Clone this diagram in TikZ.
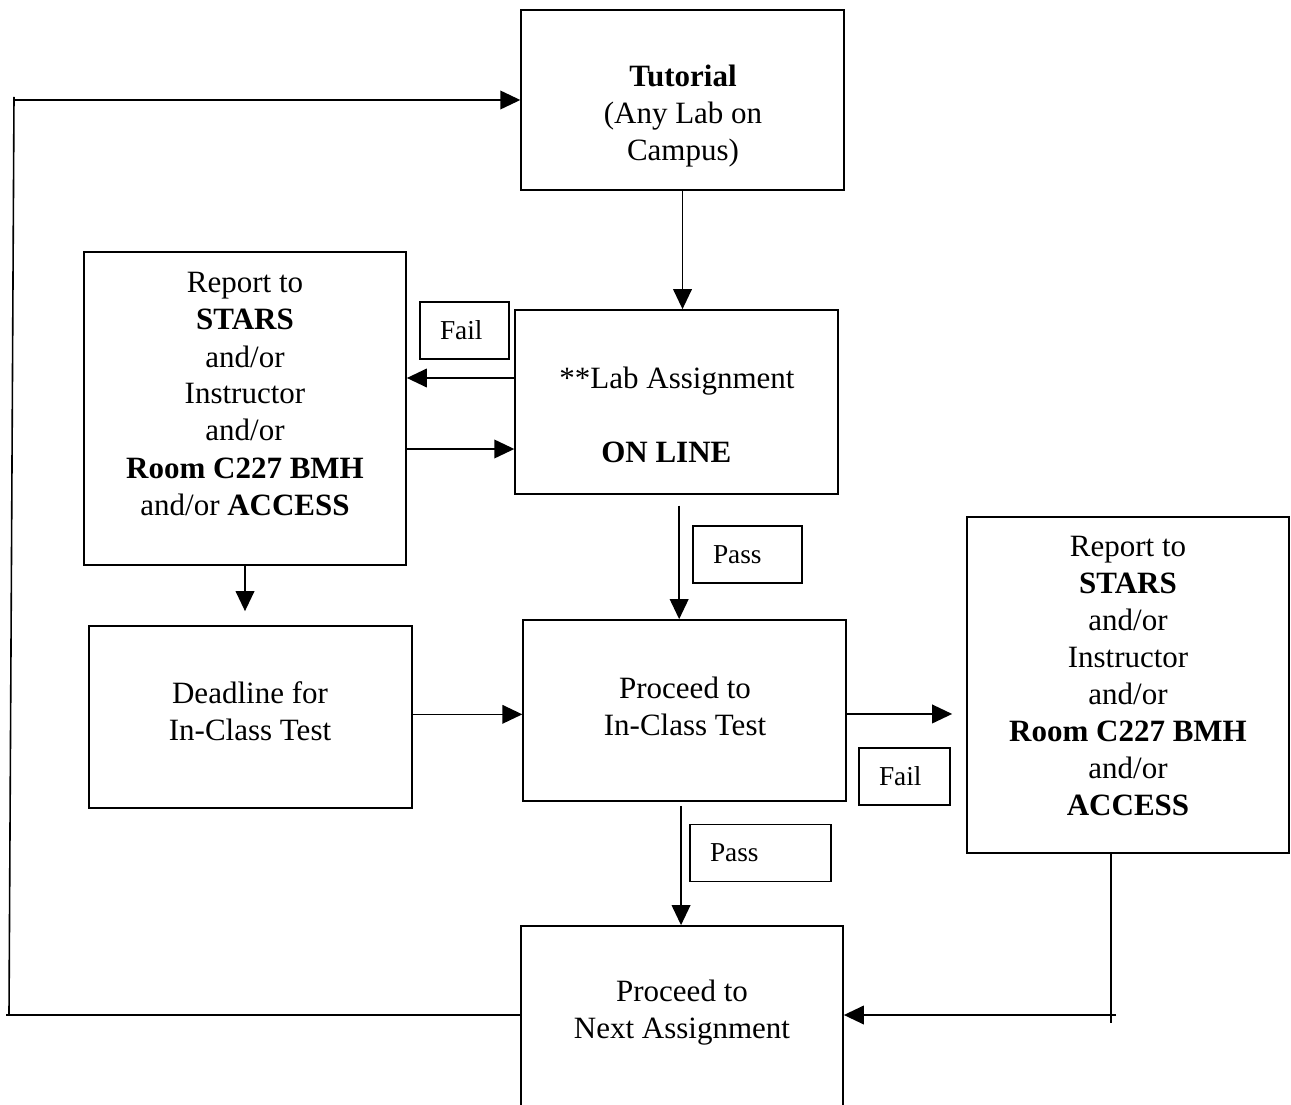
\documentclass[tikz,border=0pt]{standalone}
\usepackage{fontspec}
\setmainfont{Liberation Serif}
\usetikzlibrary{arrows.meta, positioning}

\begin{document}
\begin{tikzpicture}[
        x=0.75pt, y=-0.75pt,
        font=\fontsize{23.25pt}{27.75pt}\selectfont,
        caixa/.style={rectangle, draw, line width=1.3pt, minimum width=242pt},
        texto/.style={align=center, inner sep=0pt},
        rotulo/.style={rectangle, draw, line width=1.1pt, font=\fontsize{20.5pt}{24pt}\selectfont, inner xsep=15pt, inner ysep=0pt, align=left, minimum height=42.75pt},
        conector/.style={-{Triangle[length=15pt,width=14pt]}, line width=1.2pt},
        linha/.style={line width=1.2pt}
    ]
    \useasboundingbox (0,0) rectangle (1291,1105);

    % CAIXAS
    \node[caixa, minimum height=135pt] (tutorial) at (682.5,100) {};
    \node[texto] (tutorial_txt) at (683,116) {\textbf{Tutorial}\\(Any Lab on\\Campus)};
    \node[caixa, minimum height=138pt] (lab) at (676.5,402) {};
    \node[texto] (lab_txt) at (677,415) {**Lab Assignment\\[27.75pt]\textbf{ON LINE}\hspace*{16pt}};
    \node[caixa, minimum width=241.5pt, minimum height=234.75pt] (relatorio1) at (245,408.5) {};
    \node[texto] (relatorio1_txt) at (245,394) {Report to\\\textbf{STARS}\\and/or\\Instructor\\and/or\\\textbf{Room C227 BMH}\\and/or \textbf{ACCESS}};
    \node[caixa, minimum height=136.5pt] (prazo) at (250.5,717) {};
    \node[texto] (prazo_txt) at (250,711) {Deadline for\\In-Class Test};
    \node[caixa, minimum height=135.75pt] (teste) at (684.5,710.5) {};
    \node[texto] (teste_txt) at (685,706) {Proceed to\\In-Class Test};
    \node[caixa, minimum width=241.5pt, minimum height=252pt] (relatorio2) at (1128,685) {};
    \node[texto] (relatorio2_txt) at (1128,676) {Report to\\\textbf{STARS}\\and/or\\Instructor\\and/or\\\textbf{Room C227 BMH}\\and/or\\\textbf{ACCESS}};
    \node[caixa, minimum width=241.5pt, minimum height=150pt] (proxima) at (682,1026) {};
    \node[texto] (proxima_txt) at (682,1013) {Proceed to\\Next Assignment};

    % ROTULOS
    \node[rotulo, text width=36.75pt] (falha1) at (464.5,330.5) {Fail};
    \node[rotulo, text width=51.75pt] (passa1) at (747.5,554.5) {Pass};
    \node[rotulo, text width=38.25pt] (falha2) at (904.5,776.5) {Fail};
    \node[rotulo, text width=75.75pt] (passa2) at (760.5,853) {Pass};

    % PONTOS DE RETORNO
    \coordinate (canto_dir) at (1111,1015);
    \coordinate (canto_esq_baixo) at (6,1015);
    \coordinate (pe_esq) at (9,1015);
    \coordinate (topo_esq) at (14,97);

    % CONECTORES
    \draw[conector] (tutorial.south) -- (tutorial.south |- lab.north);
    \draw[conector] ([yshift=18pt]lab.west) -- ([yshift=18pt]lab.west -| relatorio1.east);
    \draw[conector] ([yshift=-35.25pt]lab.west -| relatorio1.east) -- ([yshift=-35.25pt]lab.west);
    \draw[conector, shorten >=10.5pt] (relatorio1.south) -- (relatorio1.south |- prazo.north);
    \draw[conector] ([yshift=2pt]prazo.east) -- ([yshift=2pt]prazo.east -| teste.west);
    \draw[conector, shorten <=8pt] ([xshift=2pt]lab.south) -- ([xshift=2pt]lab.south |- teste.north);
    \draw[conector, shorten >=10.5pt] ([yshift=-2.6pt]teste.east) -- ([yshift=-2.6pt]teste.east -| relatorio2.west);
    \draw[conector, shorten <=3pt] ([xshift=-2.6pt]teste.south) -- ([xshift=-2.6pt]teste.south |- proxima.north);
    \draw[linha] (relatorio2.south -| canto_dir) -- ([yshift=-6pt]canto_dir);
    \draw[conector] ([xshift=3.75pt]canto_dir) -- (canto_dir -| proxima.east);
    \draw[linha] (proxima.west |- canto_esq_baixo) -- (canto_esq_baixo);
    \draw[linha] (pe_esq) -- (topo_esq);
    \draw[conector] (topo_esq |- tutorial.west) -- (tutorial.west);

\end{tikzpicture}
\end{document}
